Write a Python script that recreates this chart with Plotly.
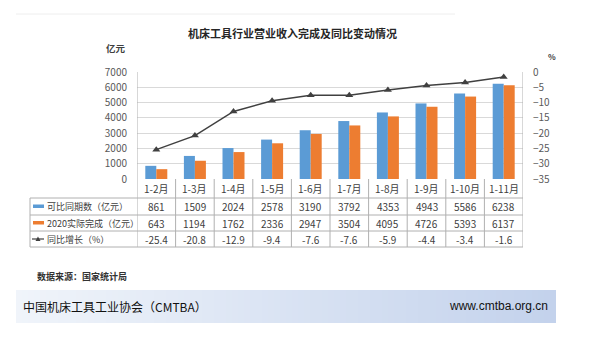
import plotly.graph_objects as go

categories = ["1-2月", "1-3月", "1-4月", "1-5月", "1-6月", "1-7月", "1-8月", "1-9月", "1-10月", "1-11月"]
comparable = [861, 1509, 2024, 2578, 3190, 3792, 4353, 4943, 5586, 6238]
actual2020 = [643, 1194, 1762, 2336, 2947, 3504, 4095, 4726, 5393, 6137]
growth = [-25.4, -20.8, -12.9, -9.4, -7.6, -7.6, -5.9, -4.4, -3.4, -1.6]
growth_labels = ["-25.4", "-20.8", "-12.9", "-9.4", "-7.6", "-7.6", "-5.9", "-4.4", "-3.4", "-1.6"]
row_names = ["可比同期数（亿元）", "2020实际完成（亿元）", "同比增长（%）"]

W, H = 602, 345
L, R, T, B = 137, 523, 72, 179  # plot area in px

def px(x):
    return (x - L) / (R - L)

def py(y):
    return (B - y) / (B - T)

BLUE = "#5B9BD5"
ORANGE = "#ED7D31"
LINEC = "#404040"
FONT = "Noto Sans CJK SC"
TXT = "#404040"

fig = go.Figure()
fig.add_trace(go.Bar(x=categories, y=comparable, name=row_names[0], marker_color=BLUE,
                     marker_line_width=0))
fig.add_trace(go.Bar(x=categories, y=actual2020, name=row_names[1], marker_color=ORANGE,
                     marker_line_width=0))
fig.add_trace(go.Scatter(x=categories, y=growth, name=row_names[2], yaxis="y2",
                         mode="lines+markers", line=dict(color=LINEC, width=1.5),
                         marker=dict(symbol="triangle-up", size=7, color=LINEC)))

shapes = []
annotations = []
gridc = "#d9d9d9"
tablec = "#b0b0b0"

# faint top line
shapes.append(dict(type="line", xref="paper", yref="paper", x0=px(16), x1=px(455),
                   y0=py(14), y1=py(14), line=dict(color="#eeeeee", width=1)))

# footer gradient band
n = 90
x0b, x1b = 16, 556
c0 = (240, 244, 250)
c1 = (195, 210, 236)
for i in range(n):
    t = i / (n - 1)
    c = tuple(int(round(c0[k] + (c1[k] - c0[k]) * t)) for k in range(3))
    xa = x0b + (x1b - x0b) * i / n
    xb = x0b + (x1b - x0b) * (i + 1) / n + 0.5
    shapes.append(dict(type="rect", xref="paper", yref="paper", x0=px(xa), x1=px(min(xb, x1b)),
                       y0=py(323), y1=py(290), line=dict(width=0),
                       fillcolor="rgb(%d,%d,%d)" % c, layer="below"))

# table vertical lines at category boundaries
ncat = len(categories)
for i in range(ncat + 1):
    xv = i - 0.5
    top = py(T) if i in (0, ncat) else 0
    shapes.append(dict(type="line", xref="x", yref="paper", x0=xv, x1=xv, y0=py(247), y1=top,
                       line=dict(color=tablec, width=1)))
# left table border
shapes.append(dict(type="line", xref="paper", yref="paper", x0=px(30), x1=px(30),
                   y0=py(247), y1=py(198), line=dict(color=tablec, width=1)))
# horizontal table lines
for yy in (198, 215, 231, 247):
    shapes.append(dict(type="line", xref="paper", yref="paper", x0=px(30), x1=1,
                       y0=py(yy), y1=py(yy), line=dict(color=tablec, width=1)))

# legend keys
shapes.append(dict(type="rect", xref="paper", yref="paper", x0=px(33), x1=px(44),
                   y0=py(208), y1=py(204.5), fillcolor=BLUE, line=dict(width=0)))
shapes.append(dict(type="rect", xref="paper", yref="paper", x0=px(33), x1=px(44),
                   y0=py(224.5), y1=py(221), fillcolor=ORANGE, line=dict(width=0)))
shapes.append(dict(type="line", xref="paper", yref="paper", x0=px(32), x1=px(44),
                   y0=py(239), y1=py(239), line=dict(color=LINEC, width=1.2)))
shapes.append(dict(type="path", xref="paper", yref="paper",
                   path="M %f %f L %f %f L %f %f Z" % (px(35.5), py(241), px(40.5), py(241), px(38), py(236.5)),
                   fillcolor=LINEC, line=dict(width=0)))

# row labels
row_y = [206.5, 223, 239]
for name, yy in zip(row_names, row_y):
    annotations.append(dict(text=name, xref="paper", yref="paper", x=px(45), y=py(yy),
                            xanchor="left", yanchor="middle", showarrow=False,
                            font=dict(size=9, color=TXT, family=FONT)))

# header + values
rows = [[str(v) for v in comparable], [str(v) for v in actual2020], growth_labels]
for i, cat in enumerate(categories):
    annotations.append(dict(text=cat, xref="x", yref="paper", x=cat, y=py(188.5),
                            xanchor="center", yanchor="middle", showarrow=False,
                            font=dict(size=10, color=TXT, family=FONT)))
    for r, yy in zip(rows, row_y):
        annotations.append(dict(text=r[i], xref="x", yref="paper", x=cat, y=py(yy),
                                xanchor="center", yanchor="middle", showarrow=False,
                                font=dict(size=10, color=TXT, family=FONT)))

# title and units
annotations.append(dict(text="<b>机床工具行业营业收入完成及同比变动情况</b>", xref="paper", yref="paper",
                        x=px(292), y=py(33), xanchor="center", yanchor="middle", showarrow=False,
                        font=dict(size=11, color="#262626", family=FONT)))
annotations.append(dict(text="<b>亿元</b>", xref="paper", yref="paper", x=px(127.5), y=py(48),
                        xanchor="right", yanchor="middle", showarrow=False,
                        font=dict(size=9.5, color="#404040", family=FONT)))
annotations.append(dict(text="<b>%</b>", xref="paper", yref="paper", x=px(546), y=py(56),
                        xanchor="left", yanchor="middle", showarrow=False,
                        font=dict(size=8, color="#404040", family=FONT)))
annotations.append(dict(text="<b>数据来源：国家统计局</b>", xref="paper", yref="paper", x=px(35), y=py(276),
                        xanchor="left", yanchor="middle", showarrow=False,
                        font=dict(size=9, color="#333333", family=FONT)))
annotations.append(dict(text="中国机床工具工业协会（CMTBA）", xref="paper", yref="paper", x=px(21), y=py(306),
                        xanchor="left", yanchor="middle", showarrow=False,
                        font=dict(size=12, color="#111111", family=FONT)))
annotations.append(dict(text="www.cmtba.org.cn", xref="paper", yref="paper", x=px(550), y=py(306),
                        xanchor="right", yanchor="middle", showarrow=False,
                        font=dict(size=12, color="#111111", family="Liberation Sans")))

fig.update_layout(
    width=W, height=H,
    margin=dict(l=L, r=W - R, t=T, b=H - B, pad=0),
    paper_bgcolor="white", plot_bgcolor="white",
    showlegend=False,
    barmode="group", bargap=0.43, bargroupgap=0,
    font=dict(family=FONT, size=10, color="#595959"),
    xaxis=dict(showticklabels=False, ticks="", showgrid=False, zeroline=False,
               showline=False, range=[-0.5, ncat - 0.5]),
    yaxis=dict(range=[0, 7000], dtick=1000, showgrid=True, gridcolor=gridc, gridwidth=1,
               zeroline=False, showline=False, ticks="", ticklabelstandoff=9,
               tickfont=dict(size=10, color="#595959", family=FONT)),
    yaxis2=dict(range=[-35, 0], dtick=5, overlaying="y", side="right", showgrid=False,
                zeroline=False, showline=False, ticks="", ticklabelstandoff=9,
                tickfont=dict(size=10, color="#595959", family=FONT)),
    shapes=shapes,
    annotations=annotations,
)

fig.write_html("out.html")
